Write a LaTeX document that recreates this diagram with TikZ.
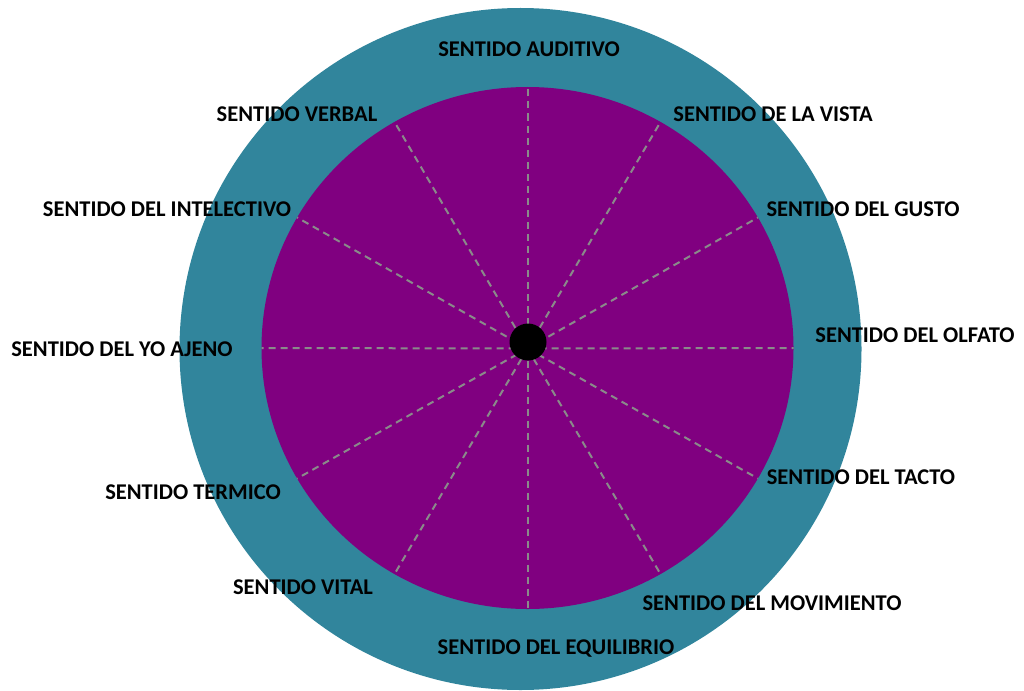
\documentclass[tikz,border=0pt]{standalone}
\usepackage{fontspec}
\setmainfont{Carlito}
\usetikzlibrary{calc}
\definecolor{ringteal}{HTML}{31859C}
\definecolor{discpurple}{HTML}{800080}
\definecolor{spokegray}{HTML}{8A8A8A}
\tikzset{
  lbl/.style={font=\bfseries\fontsize{22.5}{25}\selectfont, text=black, inner sep=0pt},
  spoke/.style={draw=spokegray, line width=2pt, dash pattern=on 7pt off 5pt},
}
\begin{document}
\begin{tikzpicture}[x=1pt,y=-1pt]
\useasboundingbox (0,0) rectangle (1024,690);
\fill[ringteal] (520.5,349) circle[radius=341pt];
\fill[discpurple] (527.5,348) ellipse[x radius=266pt, y radius=261pt];
\coordinate (c) at (527.5,348.5);
\foreach \a in {0,30,...,330}{
  \coordinate (e\a) at ($(527.5,348)+(\a:266pt and 261pt)$);
}
\foreach \a in {0,30,...,330}{
  \draw[spoke] (c) -- (e\a);
}
\node[circle, fill=black, minimum size=37pt, inner sep=0pt] (dot) at (528,342) {};
\node[lbl] (auditivo) at (529,49) {SENTIDO AUDITIVO};
\node[lbl] (verbal) at (297,114) {SENTIDO VERBAL};
\node[lbl] (vista) at (773,114) {SENTIDO DE LA VISTA};
\node[lbl] (intelectivo) at (167,209) {SENTIDO DEL INTELECTIVO};
\node[lbl] (gusto) at (863,209) {SENTIDO DEL GUSTO};
\node[lbl] (yoajeno) at (122,349) {SENTIDO DEL YO AJENO};
\node[lbl] (olfato) at (915,335) {SENTIDO DEL OLFATO};
\node[lbl] (termico) at (193,492) {SENTIDO TERMICO};
\node[lbl] (tacto) at (861,477) {SENTIDO DEL TACTO};
\node[lbl] (vital) at (303,587) {SENTIDO VITAL};
\node[lbl] (movimiento) at (772,603) {SENTIDO DEL MOVIMIENTO};
\node[lbl] (equilibrio) at (556,649) {SENTIDO DEL EQUILIBRIO};
\end{tikzpicture}
\end{document}
